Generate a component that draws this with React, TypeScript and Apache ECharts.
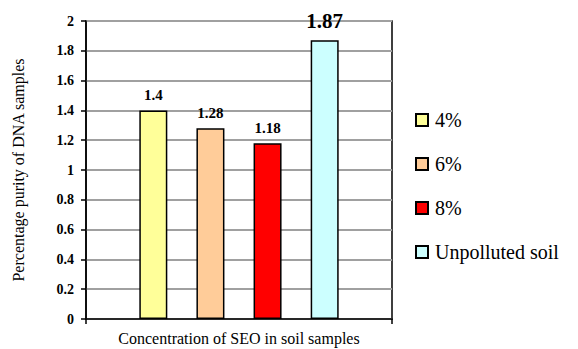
import React, { useEffect, useRef } from "react";
import * as echarts from "echarts";

const categories = [""];
const seriesNames = ["4%", "6%", "8%", "Unpolluted soil"];
const seriesValues = [1.4, 1.28, 1.18, 1.87];
const seriesColors = ["#FFFF99", "#FFCC99", "#FF0000", "#CCFFFF"];
const labelSizes = [15, 15, 15, 21];
const yTicks = [0, 0.2, 0.4, 0.6, 0.8, 1, 1.2, 1.4, 1.6, 1.8, 2];

const FONT = "Liberation Serif";

export default function App() {
  const ref = useRef<HTMLDivElement>(null);
  useEffect(() => {
    document.body.style.margin = "0";
    if (!ref.current) return;
    const chart = echarts.init(ref.current, undefined, { renderer: "svg" });
    chart.setOption({
      animation: false,
      backgroundColor: "#ffffff",
      textStyle: { fontFamily: FONT },
      grid: {
        left: 86,
        right: 186,
        top: 21,
        bottom: 30,
        show: true,
        borderColor: "#000",
        borderWidth: 1.5,
        containLabel: false,
        outerBoundsMode: "none",
      },
      legend: {
        orient: "vertical",
        left: 415,
        top: 110,
        padding: 0,
        itemWidth: 12,
        itemHeight: 12,
        itemGap: 24,
        icon: "rect",
        textStyle: {
          fontFamily: FONT,
          fontSize: 20,
          color: "#000",
          padding: [0, 0, 0, 2],
        },
        data: seriesNames,
      },
      xAxis: {
        type: "category",
        data: categories,
        name: "Concentration of SEO in soil samples",
        nameLocation: "middle",
        nameGap: 11,
        nameTextStyle: { fontFamily: FONT, fontSize: 16, color: "#000" },
        axisLine: { lineStyle: { color: "#000", width: 1.5 } },
        axisTick: { show: true, length: 5, lineStyle: { color: "#000", width: 1.5 } },
        axisLabel: { show: false },
      },
      yAxis: {
        type: "value",
        min: 0,
        max: 2,
        interval: 0.2,
        name: "Percentage purity of DNA samples",
        nameLocation: "middle",
        nameGap: 60,
        nameTextStyle: { fontFamily: FONT, fontSize: 16, color: "#000" },
        axisLine: { show: true, lineStyle: { color: "#000", width: 1.5 } },
        axisTick: { show: true, length: 5, lineStyle: { color: "#000", width: 1.5 } },
        axisLabel: {
          fontFamily: FONT,
          fontSize: 14,
          fontWeight: "bold",
          color: "#000",
          margin: 12,
          formatter: (v: number) => {
            const t = yTicks.find((x) => Math.abs(x - v) < 1e-6);
            return String(t !== undefined ? Number(t.toFixed(1)) : v);
          },
        },
        splitLine: { show: true, lineStyle: { color: "#a0a0a0", width: 2 } },
      },
      series: seriesNames.map((name, i) => ({
        name,
        type: "bar",
        data: [seriesValues[i]],
        barWidth: 28,
        barGap: "104%",
        itemStyle: { color: seriesColors[i], borderColor: "#000", borderWidth: 1.5 },
        label: {
          show: true,
          position: "top",
          distance: i === 3 ? 9 : 8,
          fontFamily: FONT,
          fontSize: labelSizes[i],
          fontWeight: "bold",
          color: "#000",
        },
      })),
    });
    return () => chart.dispose();
  }, []);
  return <div ref={ref} style={{ width: 578, height: 349 }} />;
}
